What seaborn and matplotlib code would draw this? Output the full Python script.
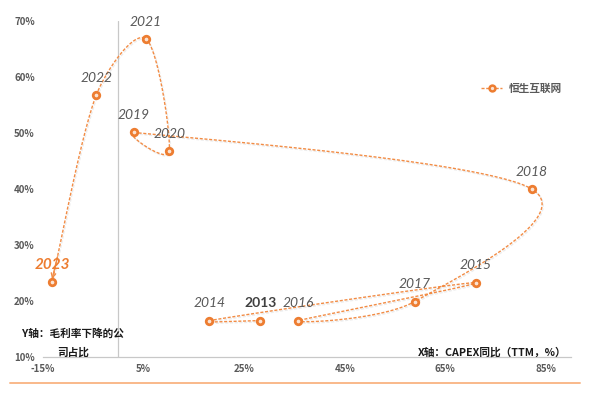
import numpy as np
import pandas as pd
import matplotlib
matplotlib.use('Agg')
import matplotlib.pyplot as plt
import seaborn as sns
from matplotlib.lines import Line2D
import matplotlib.patheffects as pe

years = ['2013', '2014', '2015', '2016', '2017', '2018', '2019', '2020', '2021', '2022', '2023']
capex_yoy = [28.2, 18.1, 71.1, 35.8, 58.9, 82.2, 3.1, 10.1, 5.5, -4.4, -13.2]
margin_down_share = [16.5, 16.5, 23.3, 16.5, 19.9, 40.0, 50.1, 46.7, 66.8, 56.8, 23.4]
x_ticks = [-15, 5, 25, 45, 65, 85]
y_ticks = [10, 20, 30, 40, 50, 60, 70]
series_name = '恒生互联网'
y_label_lines = ['Y轴：毛利率下降的公', '司占比']
x_label = 'X轴：CAPEX同比（TTM，%）'

ORANGE = '#ED7D31'
LINE = '#F28C45'
GRAY = '#595959'

sns.set_theme(style='white')
plt.rcParams['font.family'] = ['Noto Sans CJK SC', 'DejaVu Sans']

fig = plt.figure(figsize=(5.97, 3.96), dpi=100)
ax = fig.add_axes([43 / 597, 1 - 357 / 396, (571 - 43) / 597, (357 - 21) / 396])
ax.set_xlim(-15, 90)
ax.set_ylim(10, 70)

df = pd.DataFrame({'year': years, 'x': capex_yoy, 'y': margin_down_share})

# Excel-like smoothed line (Bezier in display space, tangent length limited)
pts = ax.transData.transform(np.column_stack([df.x, df.y]))
n = len(pts)


def limit(v, seglen, m=0.34):
    L = np.hypot(*v)
    cap = seglen * m
    return v * (cap / L) if L > cap and L > 0 else v


segs = []
for i in range(n - 1):
    p0 = pts[i - 1] if i > 0 else pts[i]
    p1 = pts[i]
    p2 = pts[i + 1]
    p3 = pts[i + 2] if i + 2 < n else pts[i + 1]
    seglen = np.hypot(*(p2 - p1))
    c1 = p1 + limit((p2 - p0) / 6, seglen)
    c2 = p2 - limit((p3 - p1) / 6, seglen)
    t = np.linspace(0, 1, 60)[:, None]
    seg = (1 - t) ** 3 * p1 + 3 * (1 - t) ** 2 * t * c1 + 3 * (1 - t) * t ** 2 * c2 + t ** 3 * p2
    segs.append(seg if i == 0 else seg[1:])
curve = ax.transData.inverted().transform(np.vstack(segs))
cdf = pd.DataFrame({'cx': curve[:, 0], 'cy': curve[:, 1]})

shadow = [pe.SimpleLineShadow(offset=(0.8, -1.0), shadow_color='#999999', alpha=0.18), pe.Normal()]
sns.lineplot(data=cdf, x='cx', y='cy', sort=False, estimator=None, ax=ax,
             color=LINE, linewidth=1.0, linestyle=(0, (2.2, 1.2)), zorder=3)
ax.lines[-1].set_path_effects(shadow)

# arrow at the end (2023)
tail = curve[-12]
ax.annotate('', xy=(df.x.iloc[-1], df.y.iloc[-1] + 0.5), xytext=(tail[0], tail[1]),
            arrowprops=dict(arrowstyle='->', color=LINE, lw=1.0,
                            mutation_scale=8, shrinkA=0, shrinkB=0), zorder=4)

sns.scatterplot(data=df, x='x', y='y', ax=ax, s=22, marker='o',
                color='#FBE3D2', edgecolor=ORANGE, linewidth=2.0, zorder=5)

for yr, xv, yv in zip(df.year, df.x, df.y):
    if yr == '2013':
        kw = dict(fontsize=10, fontweight='bold', color='#404040', family=['Lato', 'DejaVu Sans'])
    elif yr == '2023':
        kw = dict(fontsize=11, fontweight='bold', style='italic', color=ORANGE, family=['Lato', 'DejaVu Sans'])
    else:
        kw = dict(fontsize=10, style='italic', color=GRAY, family=['Lato', 'DejaVu Sans'])
    ax.annotate(yr, (xv, yv), xytext=(0, 12.5), textcoords='offset points',
                ha='center', va='center', zorder=6, **kw)

# axes styling
ax.axvline(0, color='#C8C8C8', lw=0.9, zorder=1)
for s in ['top', 'right', 'left']:
    ax.spines[s].set_visible(False)
ax.spines['bottom'].set_color('#C8C8C8')
ax.spines['bottom'].set_linewidth(0.9)
ax.set_xticks(x_ticks)
ax.set_yticks(y_ticks)
ax.set_xticklabels([f'{v}%' for v in x_ticks])
ax.set_yticklabels([f'{v}%' for v in y_ticks])
ax.tick_params(axis='both', length=0, labelsize=7, labelcolor=GRAY)
ax.tick_params(axis='x', pad=5)
ax.tick_params(axis='y', pad=6)
for lab in ax.get_xticklabels() + ax.get_yticklabels():
    lab.set_fontweight('bold')
ax.set_xlabel('')
ax.set_ylabel('')
ax.grid(False)

fig.text(73 / 597, 1 - 333 / 396, y_label_lines[0], ha='center', va='center',
         fontsize=7.7, fontweight='bold', color='#1a1a1a')
fig.text(73 / 597, 1 - 352 / 396, y_label_lines[1], ha='center', va='center',
         fontsize=7.7, fontweight='bold', color='#1a1a1a')
fig.text(566 / 597, 1 - 352 / 396, x_label, ha='right', va='center',
         fontsize=7.7, fontweight='bold', color='#1a1a1a')

handle = Line2D([], [], color=LINE, lw=1.0, linestyle=(0, (2.2, 1.2)), marker='o',
                markersize=4.2, markerfacecolor='#FBE3D2', markeredgecolor=ORANGE, markeredgewidth=1.8)
leg = fig.legend([handle], [series_name], loc='center left',
                 bbox_to_anchor=(481 / 597, 1 - 89 / 396), frameon=False,
                 borderpad=0, borderaxespad=0, handlelength=2.0, handletextpad=0.6,
                 prop={'size': 7.7, 'weight': 'bold'})
for t in leg.get_texts():
    t.set_color(GRAY)

fig.add_artist(Line2D([10 / 597, 580 / 597], [1 - 383 / 396, 1 - 383 / 396],
                      color='#F9B98A', lw=1.4, transform=fig.transFigure))

fig.savefig('out.png', dpi=100)
